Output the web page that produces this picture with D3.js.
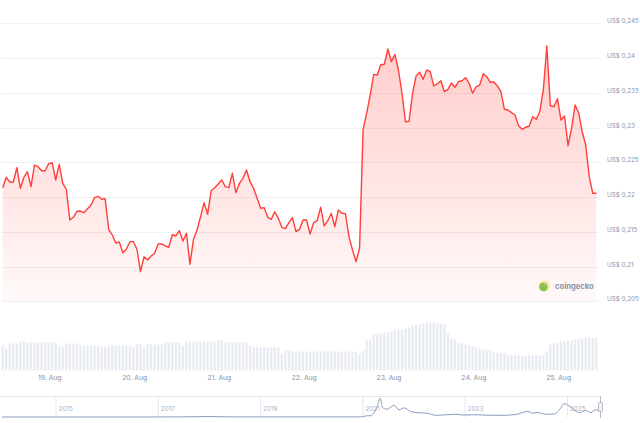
<!DOCTYPE html>
<html><head><meta charset="utf-8">
<script src="https://cdn.jsdelivr.net/npm/d3@7"></script>
<style>html,body{margin:0;padding:0;background:#fff;overflow:hidden}svg{display:block;font-family:Inter,"Open Sans",sans-serif}</style>
</head><body><svg id="c" width="640" height="423"></svg>
<script>
// ---- data ----
const startTime = Date.UTC(2025, 7, 18, 10, 48); // first hourly sample
const prices = [
0.22135,0.22284,0.22217,0.22217,0.22422,0.22126,0.22284,0.22365,0.22149,0.22461,
0.22437,0.22379,0.22379,0.2248,0.22494,0.22245,0.22471,0.22198,0.22112,0.2167,
0.21709,0.21795,0.21799,0.21775,0.21832,0.21886,0.21991,0.22011,0.21968,0.21976,
0.21536,0.21454,0.21339,0.21353,0.21199,0.21248,0.21358,0.21358,0.21248,0.20926,
0.21142,0.21094,0.21152,0.21191,0.21325,0.21325,0.21296,0.21277,0.21458,0.2144,
0.21516,0.21368,0.21479,0.21033,0.21392,0.21526,0.21717,0.21919,0.21752,0.22091,
0.22135,0.22188,0.22245,0.22149,0.22135,0.22342,0.22063,0.22198,0.2227,0.22389,
0.22221,0.22126,0.21982,0.21838,0.21847,0.21709,0.2168,0.21789,0.21694,0.21565,
0.21545,0.21631,0.21703,0.21502,0.21536,0.2167,0.2167,0.21468,0.21631,0.2166,
0.21853,0.21584,0.2166,0.21766,0.21573,0.21814,0.21766,0.21761,0.2143,0.21238,
0.2107,0.21263,0.22975,0.23205,0.23468,0.23766,0.23756,0.23904,0.2391,0.2413,
0.23948,0.24054,0.23828,0.23493,0.23084,0.2309,0.23493,0.23742,0.23795,0.23694,
0.23828,0.23804,0.23598,0.23627,0.23674,0.23516,0.2355,0.23641,0.23579,0.2366,
0.23674,0.23717,0.23637,0.23493,0.23588,0.23612,0.23775,0.23732,0.23651,0.23655,
0.23598,0.23516,0.23263,0.23253,0.23214,0.23181,0.23027,0.22975,0.23004,0.23018,
0.23156,0.23119,0.23228,0.2354,0.24173,0.23314,0.233,0.23415,0.23109,0.23166,
0.22739,0.22989,0.23325,0.23214,0.2294,0.22749,0.22293,0.22054,0.22054
];
const volumes = [
25,22,27,27,27,29,29,28,28,28,28,28,28,28,28,28,24,24,27,27,27,27,
25,25,25,25,25,25,24,24,24,25,25,25,25,25,25,23,26,26,22,26,26,26,26,26,
28,28,28,28,28,25,29,29,29,29,29,29,29,29,29,30,30,28,28,28,28,28,28,28,25,
23,23,23,23,23,23,23,23,17,20,20,19,19,19,19,19,19,19,19,
19,19,20,19,19,19,19,19,19,19,19,17,20,30,31,36,37,37,38,38,39,
40,41,41,42,43,45,46,46,47,48,48,48,47,47,46,37,32,31,28,27,26,25,
24,23,22,21,21,20,18,18,18,18,15,15,15,15,15,15,15,15,15,15,15,19,26,27,
28,29,29,30,30,31,32,32,33,33,33,33
];
const yTickValues = [0.205,0.21,0.215,0.22,0.225,0.23,0.235,0.24,0.245];
const yTickLabels = ["US$ 0,205","US$ 0,21","US$ 0,215","US$ 0,22","US$ 0,225","US$ 0,23","US$ 0,235","US$ 0,24","US$ 0,245"];
const dayTicks = ["2025-08-19","2025-08-20","2025-08-21","2025-08-22","2025-08-23","2025-08-24","2025-08-25"];
const dayLabels = ["19. Aug","20. Aug","21. Aug","22. Aug","23. Aug","24. Aug","25. Aug"];
const navDates = ["2013-12-15","2014-06-01","2015-06-01","2016-06-01","2017-06-01","2018-01-07","2018-06-01","2019-06-01","2020-06-01","2020-12-20","2021-01-29","2021-03-01","2021-04-16","2021-05-08","2021-05-25","2021-06-25","2021-08-15","2021-09-20","2021-10-28","2021-12-10","2022-01-20","2022-04-01","2022-06-15","2022-10-28","2022-12-20","2023-04-01","2023-06-10","2023-10-01","2024-01-01","2024-03-28","2024-05-01","2024-06-01","2024-08-05","2024-10-01","2024-11-25","2024-12-08","2025-01-18","2025-02-28","2025-04-08","2025-05-12","2025-06-22","2025-07-21","2025-08-25"];
const navPrices = [0.0006,0.0003,0.0002,0.0003,0.003,0.017,0.004,0.003,0.0025,0.004,0.04,0.05,0.36,0.68,0.34,0.28,0.42,0.26,0.33,0.2,0.16,0.14,0.06,0.1,0.07,0.08,0.065,0.06,0.09,0.2,0.14,0.16,0.1,0.11,0.38,0.48,0.4,0.22,0.16,0.24,0.16,0.26,0.22];
const navYears = ["2015-01-01","2017-01-01","2019-01-01","2021-01-01","2023-01-01","2025-01-01"];
const navYearLabels = ["2015","2017","2019","2021","2023","2025"];

// ---- scales ----
const svg = d3.select("#c");
const H = 3600e3;
const times = prices.map((_, i) => new Date(startTime + i * H));
const x = d3.scaleUtc().domain([times[0], times[times.length - 1]]).range([2.7, 596.3]);
const y = d3.scaleLinear().domain([0.205, 0.245]).range([301.3, 23.3]);
const yv = d3.scaleLinear().domain([0, 50]).range([370.5, 320.5]);
const xn = d3.scaleUtc().domain([new Date("2013-12-15"), new Date("2025-08-25")]).range([2, 600]);
const yn = d3.scaleLinear().domain([0, 0.72]).range([417, 397]);
const FONT = "Inter, 'Open Sans', sans-serif";

// gradient
const defs = svg.append("defs");
const grad = defs.append("linearGradient").attr("id", "ag")
  .attr("gradientUnits", "userSpaceOnUse").attr("x1", 0).attr("x2", 0)
  .attr("y1", y(0.245)).attr("y2", y(0.205));
grad.append("stop").attr("offset", 0).attr("stop-color", "#ff3a33").attr("stop-opacity", 0.27);
grad.append("stop").attr("offset", 1).attr("stop-color", "#ff3a33").attr("stop-opacity", 0.03);

// grid
svg.append("g").selectAll("line").data(yTickValues).join("line")
  .attr("x1", 2).attr("x2", 598)
  .attr("y1", d => Math.round(y(d)) + 0.5).attr("y2", d => Math.round(y(d)) + 0.5)
  .attr("stroke", "#eef0f3").attr("stroke-width", 1);

// area + line
const pts = prices.map((p, i) => ({ t: times[i], p }));
svg.append("path").datum(pts)
  .attr("d", d3.area().x(d => x(d.t)).y0(y(0.205)).y1(d => y(d.p)))
  .attr("fill", "url(#ag)");
svg.append("path").datum(pts)
  .attr("d", d3.line().x(d => x(d.t)).y(d => y(d.p)))
  .attr("fill", "none").attr("stroke", "#ff3f3a").attr("stroke-width", 1.4)
  .attr("stroke-linejoin", "round");

// volume bars
svg.append("g").selectAll("rect").data(volumes).join("rect")
  .attr("x", (d, i) => x(times[i]) - 1.15).attr("width", 2.3)
  .attr("y", d => yv(d)).attr("height", d => yv(0) - yv(d))
  .attr("fill", "#e8ebf2");

// y axis labels
const yAxis = d3.axisRight(y).tickValues(yTickValues)
  .tickFormat((d, i) => yTickLabels[i]).tickSize(0).tickPadding(0);
const gy = svg.append("g").attr("transform", "translate(607,-2.5)").call(yAxis);
gy.select(".domain").remove();
gy.selectAll("text").attr("fill", "#8a91a5").attr("font-size", 6.3).attr("font-family", FONT);

// x axis labels
const xAxis = d3.axisBottom(x).tickValues(dayTicks.map(d => new Date(d + "T00:00:00Z")))
  .tickFormat((d, i) => dayLabels[i]).tickSize(0).tickPadding(0);
const gx = svg.append("g").attr("transform", "translate(0,375)").call(xAxis);
gx.select(".domain").remove();
gx.selectAll("text").attr("fill", "#8a91a5").attr("font-size", 6.8).attr("font-family", FONT);

// logo
const lg = svg.append("g").attr("transform", "translate(544.3,286)");
lg.append("circle").attr("r", 5.8).attr("fill", "#f4eea0");
lg.append("circle").attr("cx", -0.9).attr("cy", 0.9).attr("r", 4.3).attr("fill", "#8cc152");
lg.append("circle").attr("cx", 1.2).attr("cy", -1.6).attr("r", 1.1).attr("fill", "#fff");
lg.append("circle").attr("cx", 1.4).attr("cy", -1.6).attr("r", 0.55).attr("fill", "#333");
svg.append("text").attr("x", 555).attr("y", 286).attr("dy", "0.35em")
  .attr("font-size", 7.6).attr("font-weight", 700).attr("fill", "#8b93a7")
  .attr("font-family", FONT).text("coingecko");

// navigator
const nav = svg.append("g");
nav.append("line").attr("x1", 0).attr("x2", 601).attr("y1", 396.5).attr("y2", 396.5).attr("stroke", "#e3e6ec");
const navAxis = d3.axisBottom(xn).tickValues(navYears.map(d => new Date(d)))
  .tickFormat((d, i) => navYearLabels[i]).tickSize(21).tickPadding(0);
const gn = nav.append("g").attr("transform", "translate(0,396.5)").call(navAxis);
gn.select(".domain").remove();
gn.selectAll("line").attr("stroke", "#e6e8ee");
gn.selectAll("text").attr("text-anchor", "start").attr("x", 2.5).attr("y", 12.5).attr("dy", "0.35em")
  .attr("fill", "#aab0bf").attr("font-size", 6.4).attr("font-family", FONT);
const nd = navDates.map((d, i) => ({ t: new Date(d), p: navPrices[i] }));
nav.append("path").datum(nd)
  .attr("d", d3.line().x(d => xn(d.t)).y(d => yn(d.p)).curve(d3.curveMonotoneX))
  .attr("fill", "none").attr("stroke", "#8d9cbd").attr("stroke-width", 1);
nav.append("line").attr("x1", 600.5).attr("x2", 600.5).attr("y1", 396).attr("y2", 418).attr("stroke", "#b8bdc9");
nav.append("rect").attr("x", 598.5).attr("y", 402.5).attr("width", 4).attr("height", 9).attr("rx", 1)
  .attr("fill", "#f2f2f2").attr("stroke", "#a3a8b5").attr("stroke-width", 0.8);
</script></body></html>
